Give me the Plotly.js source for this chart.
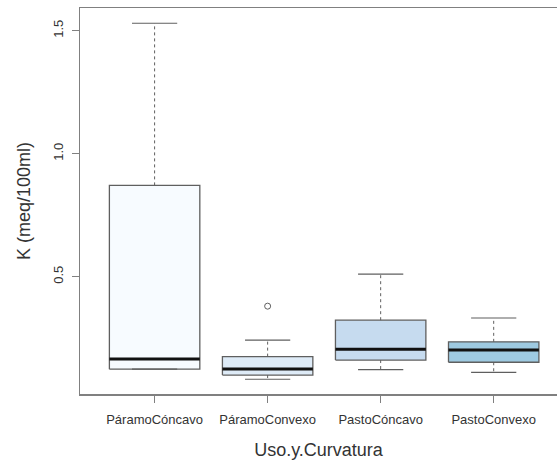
<!DOCTYPE html>
<html>
<head>
<meta charset="utf-8">
<script src="https://cdn.plot.ly/plotly-3.0.1.min.js"></script>
<style>html,body{margin:0;padding:0;background:#fff;}#chart{width:557px;height:462px;}</style>
</head>
<body>
<div id="chart"></div>
<script>
// K (meq/100ml) summary by land use and slope curvature
const categories = ["PáramoCóncavo", "PáramoConvexo", "PastoCóncavo", "PastoConvexo"];
const lowerWhisker = [0.124, 0.083, 0.122, 0.111];
const q1 = [0.124, 0.100, 0.161, 0.152];
const median = [0.165, 0.125, 0.205, 0.202];
const q3 = [0.871, 0.175, 0.323, 0.235];
const upperWhisker = [1.530, 0.242, 0.510, 0.332];
const outlierGroup = [2];
const outlierValue = [0.380];
const fills = ["#F7FBFF", "#DEEBF7", "#C6DBEF", "#9ECAE1"];

const halfBox = 0.4;
const halfCap = 0.2;
const pos = categories.map((_, i) => i + 1);
const edge = "#5f5f5f";
const traces = [];

pos.forEach((p, i) => {
  traces.push({
    type: "scatter", mode: "lines", hoverinfo: "skip", showlegend: false,
    x: [p - halfBox, p + halfBox, p + halfBox, p - halfBox, p - halfBox],
    y: [q1[i], q1[i], q3[i], q3[i], q1[i]],
    fill: "toself", fillcolor: fills[i],
    line: {color: edge, width: 1.3}
  });
});

// dashed whiskers
const wx = [], wy = [];
pos.forEach((p, i) => {
  wx.push(p, p, null, p, p, null);
  wy.push(q3[i], upperWhisker[i], null, q1[i], lowerWhisker[i], null);
});
traces.push({type: "scatter", mode: "lines", hoverinfo: "skip", showlegend: false,
  x: wx, y: wy, line: {color: edge, width: 1, dash: "3px,3px"}});

// whisker caps
const cx = [], cy = [];
pos.forEach((p, i) => {
  cx.push(p - halfCap, p + halfCap, null, p - halfCap, p + halfCap, null);
  cy.push(upperWhisker[i], upperWhisker[i], null, lowerWhisker[i], lowerWhisker[i], null);
});
traces.push({type: "scatter", mode: "lines", hoverinfo: "skip", showlegend: false,
  x: cx, y: cy, line: {color: edge, width: 1.2}});

// medians
const mx = [], my = [];
pos.forEach((p, i) => {
  mx.push(p - halfBox, p + halfBox, null);
  my.push(median[i], median[i], null);
});
traces.push({type: "scatter", mode: "lines", hoverinfo: "skip", showlegend: false,
  x: mx, y: my, line: {color: "#111111", width: 3}});

// outliers
traces.push({type: "scatter", mode: "markers", hoverinfo: "skip", showlegend: false,
  x: outlierGroup, y: outlierValue,
  marker: {symbol: "circle-open", size: 6, color: edge, line: {width: 1}}});

const font = {family: "Liberation Sans, Arial, sans-serif", color: "#333333"};

const layout = {
  width: 557, height: 462,
  margin: {l: 80, r: 0, t: 8, b: 68},
  paper_bgcolor: "#ffffff", plot_bgcolor: "#ffffff",
  font: font,
  xaxis: {
    range: [0.34, 4.56], tickvals: pos, ticktext: categories,
    showgrid: false, zeroline: false,
    showline: true, mirror: true, linecolor: "#808080", linewidth: 1.5,
    ticks: "outside", ticklen: 7, tickcolor: "#808080", tickwidth: 1,
    ticklabelstandoff: 6,
    tickfont: {family: font.family, size: 13, color: "#333333"},
    title: {text: "Uso.y.Curvatura", font: {family: font.family, size: 18, color: "#333333"}, standoff: 17}
  },
  yaxis: {
    range: [0.023, 1.592], tickvals: [0.5, 1.0, 1.5], ticktext: ["0.5", "1.0", "1.5"],
    showgrid: false, zeroline: false,
    showline: true, linecolor: "#808080", linewidth: 1.5,
    ticks: "outside", ticklen: 7, tickcolor: "#808080", tickwidth: 1,
    tickangle: -90,
    ticklabelstandoff: 3,
    tickfont: {family: font.family, size: 13, color: "#333333"},
    title: {text: "K (meq/100ml)", font: {family: font.family, size: 18, color: "#333333"}, standoff: 16}
  }
};

Plotly.newPlot("chart", traces, layout, {displayModeBar: false, staticPlot: true});
</script>
</body>
</html>
